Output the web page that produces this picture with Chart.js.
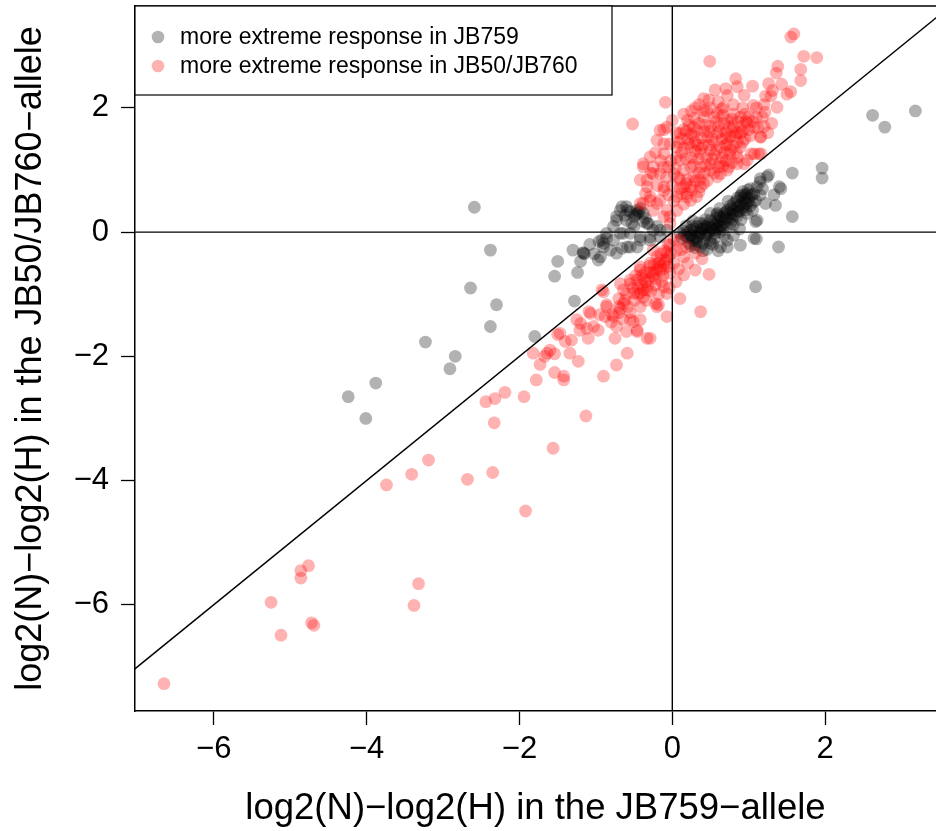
<!DOCTYPE html>
<html>
<head>
<meta charset="utf-8">
<script src="https://cdn.jsdelivr.net/npm/chart.js@4.4.1/dist/chart.umd.min.js"></script>
<style>
html,body{margin:0;padding:0;background:#fff;overflow:hidden;}
canvas{display:block;}
</style>
</head>
<body>
<canvas id="c" width="936" height="831"></canvas>
<script>
// ---- data ----
const seriesLabels = ["more extreme response in JB759", "more extreme response in JB50/JB760"];
const xTickValues = [-6, -4, -2, 0, 2];
const yTickValues = [-6, -4, -2, 0, 2];
const xTitle = "log2(N)\u2212log2(H) in the JB759\u2212allele";
const yTitle = "log2(N)\u2212log2(H) in the JB50/JB760\u2212allele";

// gray: |x| > |y|
const grayPoints = [
  [2.62,1.88],[2.78,1.69],[3.18,1.95],[1.96,1.03],[1.96,0.87],[1.57,0.95],[1.57,0.25],[1.39,-0.24],[1.09,-0.88],[1.1,-0.11],[0.89,-0.21],
  [-2.59,0.4],[-2.38,-0.29],[-2.64,-0.9],[-2.3,-1.17],[-2.38,-1.52],[-3.23,-1.77],[-2.84,-2.0],[-2.91,-2.2],[-3.88,-2.43],[-4.24,-2.65],[-4.01,-3.0],
  [-1.8,-1.68],[-1.28,-1.11],[-1.54,-0.71],[-1.5,-0.47],[-1.24,-0.65],[-1.17,-0.33],[-1.15,-0.35],[-1.2,-0.47],[-0.96,-0.15],[-0.97,-0.45],[-1.3,-0.29],
  [-0.94,-0.4],[-0.92,-0.13],[-0.86,-0.1],[-0.81,-0.29],[-0.73,-0.34],[-0.66,-0.26],[-0.59,-0.24],[-0.46,-0.24],[-0.42,-0.08],[-0.29,-0.08],[-0.16,-0.08],
  [-0.07,0.03],[-0.73,0.25],[-0.66,0.41],[-0.59,0.35],[-0.53,0.14],[-0.46,0.3],[-0.42,0.38],[-0.38,0.17],[-0.31,0.14],[-0.2,0.09],[-0.55,-0.02],
  [-0.68,-0.02],[-0.77,0.09],[-0.9,-0.18],[-0.68,0.35],[-0.6,0.41],[-0.46,0.35],[-0.38,0.3],[-0.73,0.19],[-0.6,0.19],[-0.5,0.09],[-0.33,0.14],
  [-0.25,0.03],[-0.16,0.03],[-0.86,-0.02],[-0.77,-0.13],[-0.64,-0.02],[-0.55,-0.24],[-0.42,-0.13],[-0.29,-0.13],[-0.9,-0.24],[-1.16,-0.34],
  [-0.48,0.28],[-0.44,0.32],[-0.5,0.25],[-0.35,0.22],[-1.02,-0.35],[-1.08,-0.2],[-0.62,0.27],[-0.55,0.33],
  [1.26,0.92],[1.42,0.7],[1.33,0.6],[1.35,0.43],[1.15,0.86],[1.11,0.73],[1.22,0.46],[1.09,0.51],[0.98,0.62],[0.89,0.57],[0.94,0.41],[0.8,0.46],
  [0.72,0.35],[0.67,0.25],[0.59,0.3],[0.5,0.19],[0.41,0.14],[0.32,0.09],[0.24,0.03],[0.19,-0.08],[0.37,-0.02],[0.46,-0.02],[0.54,0.03],[0.63,0.09],
  [0.76,0.14],[0.85,0.25],[0.98,0.3],[1.09,0.17],[0.5,-0.18],[0.37,-0.24],[0.63,-0.24],[0.72,-0.13],[0.28,-0.13],[0.1,-0.02],[1.15,0.81],[1.24,0.89],
  [1.4,0.73],[1.07,0.62],[1.11,0.19],[0.72,-0.24],[0.5,-0.13],[1.07,-0.1],
  [0.2,0.0],[0.25,-0.05],[0.3,0.0],[0.33,-0.08],[0.4,0.05],[0.45,0.08],[0.42,-0.1],[0.55,0.12],[0.6,0.18],[0.65,0.1],[0.7,0.22],[0.75,0.3],
  [0.8,0.35],[0.85,0.4],[0.9,0.45],[0.95,0.5],[1.0,0.55],[1.02,0.42],[0.88,0.33],[0.78,0.2],[0.68,0.15],[0.58,0.05],[0.48,0.0],[0.38,0.05],
  [0.28,0.05],[0.15,0.02],[0.22,-0.18],[0.3,-0.2],[0.45,-0.28],[0.55,-0.1],[0.62,0.0],[0.35,0.15],[0.5,0.3],[0.62,0.38],[0.73,0.5],[0.85,0.55],
  [0.92,0.65],[1.02,0.7],[0.12,-0.1],[0.18,0.1],[0.27,0.18],[0.43,0.2],[0.57,0.22],[0.68,0.3],[0.8,0.12],[0.9,0.2],[0.96,0.36],[1.05,0.35],
  [1.15,0.6],[1.18,0.7],[0.6,-0.3],[0.8,-0.05],[0.88,0.05],
  [0.22,-0.08],[0.27,-0.1],[0.32,-0.15],[0.35,-0.05],[0.4,-0.18],[0.44,-0.05],[0.47,0.12],[0.52,0.05],[0.53,-0.2],[0.57,0.12],[0.6,0.1],
  [0.64,0.2],[0.66,0.04],[0.7,0.32],[0.74,0.22],[0.77,0.38],[0.82,0.28],[0.84,0.5],[0.87,0.42],[0.9,0.6],[0.93,0.55],[0.97,0.46],[0.99,0.68],
  [1.04,0.6],[0.16,-0.05],[0.26,0.1],[0.36,0.0],[0.42,0.1],[0.5,0.08],[0.56,-0.02],[0.62,0.25],[0.72,0.12],[0.78,0.3],[0.86,0.34],[0.92,0.38],
  [1.0,0.5],[0.3,-0.25],[0.4,-0.3],[0.24,-0.22],[0.68,-0.05],[0.58,0.28],[0.76,0.42],[0.95,0.6],[1.06,0.48]
];

// red: |y| > |x|
const redPoints = [
  [1.59,3.19],[1.55,3.14],[1.72,2.83],[1.89,2.81],[1.68,2.62],[1.38,2.67],[1.36,2.56],[0.49,2.75],[0.83,2.47],[1.05,2.35],[1.26,2.39],[1.43,2.38],
  [1.31,2.28],[1.29,2.19],[1.55,2.26],[1.5,2.22],[1.22,2.19],[1.37,2.01],[1.21,1.93],[0.85,2.34],[0.7,2.31],[0.56,2.29],[0.72,2.2],[0.94,2.2],
  [1.06,2.04],[0.41,2.15],[0.48,2.13],[0.67,2.01],[-0.09,2.09],[-0.52,1.74],[-0.11,1.65],[0.29,1.83],[0.41,1.96],[1.68,2.44],
  [1.15,1.53],[1.13,1.26],[1.03,1.26],[0.94,1.1],[0.85,1.2],[0.74,1.05],[0.63,0.94],[0.46,0.83],[0.37,0.73],[0.24,0.51],[0.15,0.73],[-0.16,1.64],
  [-0.07,1.69],[-0.2,1.48],[-0.29,1.21],[-0.38,1.05],[-0.42,0.84],[-0.33,0.73],[-0.29,0.51],[-0.38,0.46],[-0.2,0.46],[-0.07,0.35],[-0.03,0.25],
  [-0.16,0.94],[-0.11,1.26],[-0.03,1.42],[0.1,1.59],[0.28,1.69],[0.41,1.85],[0.59,1.91],[0.72,1.8],[0.89,1.85],[0.98,1.75],[1.07,1.69],[0.89,1.59],
  [0.76,1.53],[0.59,1.59],[0.46,1.53],[0.32,1.64],[0.24,1.37],[0.37,1.26],[0.5,1.32],[0.63,1.37],[0.76,1.32],[0.89,1.37],[0.5,1.1],[0.37,1.05],
  [0.24,1.05],[0.1,1.16],[0.06,1.37],[0.02,0.94],[0.1,0.84],[0.28,0.89],[0.19,0.62],[0.06,0.57],[-0.11,0.73],[-0.16,0.51],[-0.25,0.94],
  [-0.42,0.46],[-0.29,0.57],[-0.11,0.67],[-0.25,0.35],[-0.11,0.25],[-0.03,0.14],[0.06,0.35],[0.19,0.57],[0.32,0.57],[0.24,0.73],[0.41,0.78],
  [0.59,0.89],[0.72,1.0],[0.85,1.1],[0.98,1.16],[1.07,1.26],[1.16,1.26],[1.16,1.53],[-0.33,0.84],[-0.38,1.1],[-0.25,1.05],[-0.11,1.42],
  [0.2,1.5],[0.3,1.45],[0.4,1.4],[0.55,1.45],[0.65,1.5],[0.7,1.6],[0.8,1.7],[0.9,1.7],[1.0,1.65],[1.0,1.85],[0.8,1.9],[0.5,1.7],[0.35,1.75],
  [0.15,1.35],[0.25,1.2],[0.45,1.2],[0.55,1.25],[0.65,1.2],[0.75,1.25],[0.85,1.45],[0.95,1.5],[0.6,1.7],[0.45,1.95],[0.2,1.8],[0.0,1.8],
  [0.05,1.2],[0.15,1.0],[0.35,0.95],[0.5,1.0],[0.6,1.05],[0.7,1.15],[0.3,1.3],[0.42,1.62],[0.15,1.65],[0.78,1.62],[0.95,1.9],[1.1,1.85],
  [1.1,2.0],[0.3,2.0],[0.6,2.1],[-0.05,1.05],[-0.15,1.15],[0.1,0.7],[0.2,0.85],[-0.2,0.75],[0.02,0.5],[0.15,0.45],[0.35,0.65],[-0.35,0.62],
  [0.55,1.85],[0.68,1.75],[0.85,1.6],[0.25,1.58],[0.12,1.5],[0.7,1.4],[1.2,1.7],[1.25,1.6],
  [0.18,1.62],[0.22,1.72],[0.28,1.55],[0.33,1.4],[0.38,1.52],[0.43,1.72],[0.48,1.62],[0.52,1.5],[0.57,1.78],[0.62,1.62],[0.66,1.88],
  [0.7,1.52],[0.74,1.7],[0.78,1.82],[0.82,1.55],[0.86,1.78],[0.92,1.62],[0.96,1.78],[1.02,1.55],[1.05,1.78],[1.12,1.68],[0.08,1.45],
  [0.12,1.28],[0.18,1.18],[0.22,1.42],[0.28,1.08],[0.34,1.18],[0.38,1.35],[0.44,1.08],[0.48,1.4],[0.52,1.18],[0.58,1.32],[0.62,1.12],
  [0.68,1.28],[0.72,1.42],[0.8,1.38],[0.84,1.28],[0.92,1.45],[0.04,1.02],[0.08,0.88],[0.12,0.62],[0.18,0.78],[0.26,0.68],[0.3,0.82],
  [0.36,0.84],[0.42,0.95],[0.55,0.95],[0.66,1.06],[0.78,1.12],[-0.02,1.15],[-0.08,0.88],[-0.12,1.05],[-0.22,1.28],[-0.28,0.95],[-0.05,0.6],
  [0.0,0.75],[0.05,1.6],[0.15,1.9],[0.25,1.95],[0.35,2.05],[0.5,2.0],[0.65,1.98],[0.8,2.05],[0.92,2.0],[1.18,1.85],[1.3,1.75],[1.2,2.05],
  [0.1,-0.13],[0.19,-0.24],[0.3,-0.34],[0.39,-0.43],[0.3,-0.61],[0.48,-0.68],[0.15,-0.69],[0.1,-1.07],[0.37,-1.28],[-0.07,-1.36],[-0.2,-1.2],
  [-0.18,-1.0],[-0.42,-1.2],[-0.33,-0.93],[-0.5,-0.98],[-0.64,-1.15],[-0.86,-1.2],[-0.92,-0.93],[-0.68,-0.83],[-0.55,-0.77],[-0.42,-0.56],
  [-0.29,-0.5],[-0.16,-0.45],[-0.07,-0.32],[-0.03,-0.21],[-0.25,-0.29],[-0.16,-0.61],[-0.03,-0.66],[-1.07,-1.31],[-1.2,-1.47],[-0.77,-1.36],
  [-0.55,-1.41],[-0.46,-1.58],[-0.29,-1.71],[-0.73,-2.14],[-0.9,-0.96],[-0.86,-1.17],[-0.88,-1.36],[-1.09,-1.28],[-1.21,-1.58],[-1.1,-1.71],
  [-0.97,-1.58],[-0.73,-1.52],[-0.75,-1.71],[-0.59,-1.95],[-0.33,-1.71],[-0.46,-1.6],[-0.51,-1.44],[-0.42,-1.41],[-0.68,-1.23],[-0.79,-1.33],
  [-0.7,-1.07],[-0.64,-0.93],[-0.55,-0.83],[-0.46,-0.77],[-0.38,-0.93],[-0.22,-1.15],[-0.18,-1.17],[-0.07,-0.99],[-0.11,-0.88],[-0.25,-0.66],
  [-0.42,-0.61],[-1.47,-1.63],[-1.4,-1.76],[-1.32,-1.74],[-1.6,-1.9],[-1.67,-2.0],[-1.54,-1.96],[-1.34,-1.95],[-1.23,-2.08],[-1.54,-2.26],
  [-1.42,-2.32],[-0.9,-2.32],[-1.82,-1.95],[-1.78,-2.38],[-1.73,-2.13],[-1.64,-1.95],[-1.5,-1.65],[-1.25,-1.41],[-1.12,-1.55],[-1.03,-1.52],
  [-0.95,-1.33],[-1.13,-2.96],[-1.42,-2.38],
  [-6.65,-7.27],[-5.25,-5.96],[-5.12,-6.49],[-4.86,-5.57],[-4.86,-5.45],[-4.76,-5.37],[-4.72,-6.29],[-4.69,-6.33],[-3.74,-4.07],[-3.41,-3.9],
  [-3.19,-3.67],[-3.32,-5.66],[-3.38,-6.01],[-2.68,-3.98],[-2.35,-3.87],[-1.92,-4.49],[-2.33,-3.07],[-2.44,-2.73],[-2.32,-2.68],[-2.19,-2.58],
  [-1.94,-2.65],[-1.56,-3.48],
  [-0.05,-0.4],[-0.1,-0.5],[-0.15,-0.55],[-0.2,-0.6],[-0.25,-0.7],[-0.3,-0.75],[-0.35,-0.8],[-0.4,-0.85],[-0.45,-0.9],[-0.1,-0.3],[-0.2,-0.4],
  [-0.3,-0.55],[-0.35,-0.65],[-0.05,-0.55],[-0.12,-0.7],[-0.22,-0.85],[-0.28,-0.95],[-0.38,-1.05],[-0.5,-1.1],[-0.6,-1.0],[-0.48,-0.7],
  [0.02,-0.12],[0.05,-0.3],[0.15,-0.4],[0.2,-0.5],[0.05,-0.8],[-0.55,-1.3],[-0.65,-1.4],[-0.8,-1.45],[-0.6,-1.6],[-0.7,-1.3],[-0.15,-0.35],
  [-0.05,-0.2],[-0.4,-0.7],[-0.45,-1.0],
  [-0.08,-0.45],[-0.12,-0.6],[-0.18,-0.5],[-0.22,-0.75],[-0.28,-0.65],[-0.32,-0.88],[-0.38,-0.75],[-0.42,-0.98],[-0.52,-0.9],[-0.58,-1.2],
  [-0.62,-1.1],[-0.02,-0.35],[0.02,-0.5],[0.08,-0.6],[-0.14,-0.8],[-0.24,-0.52],[-0.04,-0.9],[0.12,-0.28],[-0.34,-1.1],[-0.7,-1.2]
];

// reference lines (data space)
const hLine = [[-10, 0], [10, 0]];
const vLine = [[0, -10], [0, 10]];
const diagLine = [[-10, -10], [10, 10]];

const grayColor = "rgba(0,0,0,0.3)";
const redColor = "rgba(255,0,0,0.3)";

const toXY = arr => arr.map(p => ({x: p[0], y: p[1]}));
const minusFmt = v => (v < 0 ? "\u2212" + Math.abs(v) : String(v));
const FONT = "'Liberation Sans', Arial, sans-serif";

const refStyle = {showLine: true, pointRadius: 0, borderColor: "#000", borderWidth: 1.4, fill: false, order: 1};

const framePlugin = {
  id: "frame",
  afterDraw(chart) {
    const {ctx, chartArea: a} = chart;
    ctx.save();
    ctx.strokeStyle = "#000";
    ctx.lineWidth = 1.5;
    ctx.beginPath();
    ctx.moveTo(a.left, a.top);
    ctx.lineTo(a.right, a.top);
    ctx.stroke();
    // legend box
    const bx = a.left, by = a.top, bw = 477, bh = 89;
    ctx.fillStyle = "#fff";
    ctx.fillRect(bx, by, bw, bh);
    ctx.lineWidth = 1.2;
    ctx.strokeRect(bx, by, bw, bh);
    const items = chart.data.datasets.filter(d => d.legendIndex !== undefined)
      .sort((p, q) => p.legendIndex - q.legendIndex);
    ctx.font = "23px " + FONT;
    ctx.textBaseline = "middle";
    ctx.textAlign = "left";
    items.forEach((d, i) => {
      const cy = by + 31 + i * 29;
      ctx.fillStyle = d.backgroundColor;
      ctx.beginPath();
      ctx.arc(bx + 23, cy, 6.3, 0, Math.PI * 2);
      ctx.fill();
      ctx.fillStyle = "#000";
      ctx.fillText(d.label, bx + 45, cy + 1);
    });
    ctx.restore();
  }
};

new Chart(document.getElementById("c"), {
  type: "scatter",
  data: {
    datasets: [
      Object.assign({label: "h", data: toXY(hLine)}, refStyle),
      Object.assign({label: "v", data: toXY(vLine)}, refStyle),
      Object.assign({label: "d", data: toXY(diagLine)}, refStyle),
      {label: seriesLabels[1], legendIndex: 1, data: toXY(redPoints), backgroundColor: redColor, borderWidth: 0, pointRadius: 6.4, order: 2},
      {label: seriesLabels[0], legendIndex: 0, data: toXY(grayPoints), backgroundColor: grayColor, borderWidth: 0, pointRadius: 6.4, order: 3}
    ]
  },
  options: {
    responsive: false,
    animation: false,
    devicePixelRatio: 1,
    events: [],
    layout: {autoPadding: false, padding: {top: 6, right: 0, left: 0, bottom: 0}},
    plugins: {legend: {display: false}, tooltip: {enabled: false}},
    scales: {
      x: {
        type: "linear", min: -7.03, max: 3.45,
        afterBuildTicks: s => { s.ticks = xTickValues.map(v => ({value: v})); },
        afterFit: s => { s.height = 120; s.paddingLeft = 0; s.paddingRight = 0; },
        ticks: {callback: minusFmt, color: "#000", padding: 6, maxRotation: 0,
                font: {family: FONT, size: 31}},
        grid: {display: true, drawOnChartArea: false, drawTicks: true, tickLength: 14, tickColor: "#000", tickWidth: 1.3},
        border: {display: true, color: "#000", width: 1.5},
        title: {display: true, text: xTitle, color: "#000", padding: {top: 0, bottom: 4},
                font: {family: FONT, size: 36.5, lineHeight: 1}}
      },
      y: {
        type: "linear", min: -7.71, max: 3.64,
        afterBuildTicks: s => { s.ticks = yTickValues.map(v => ({value: v})); },
        afterFit: s => { s.width = 135; s.paddingTop = 0; s.paddingBottom = 0; },
        ticks: {callback: minusFmt, color: "#000", padding: 12,
                font: {family: FONT, size: 31}},
        grid: {display: true, drawOnChartArea: false, drawTicks: true, tickLength: 14, tickColor: "#000", tickWidth: 1.3},
        border: {display: true, color: "#000", width: 1.5},
        title: {display: true, text: yTitle, color: "#000", padding: {top: 13, bottom: 0},
                font: {family: FONT, size: 36, lineHeight: 1}}
      }
    }
  },
  plugins: [framePlugin]
});
</script>
</body>
</html>
